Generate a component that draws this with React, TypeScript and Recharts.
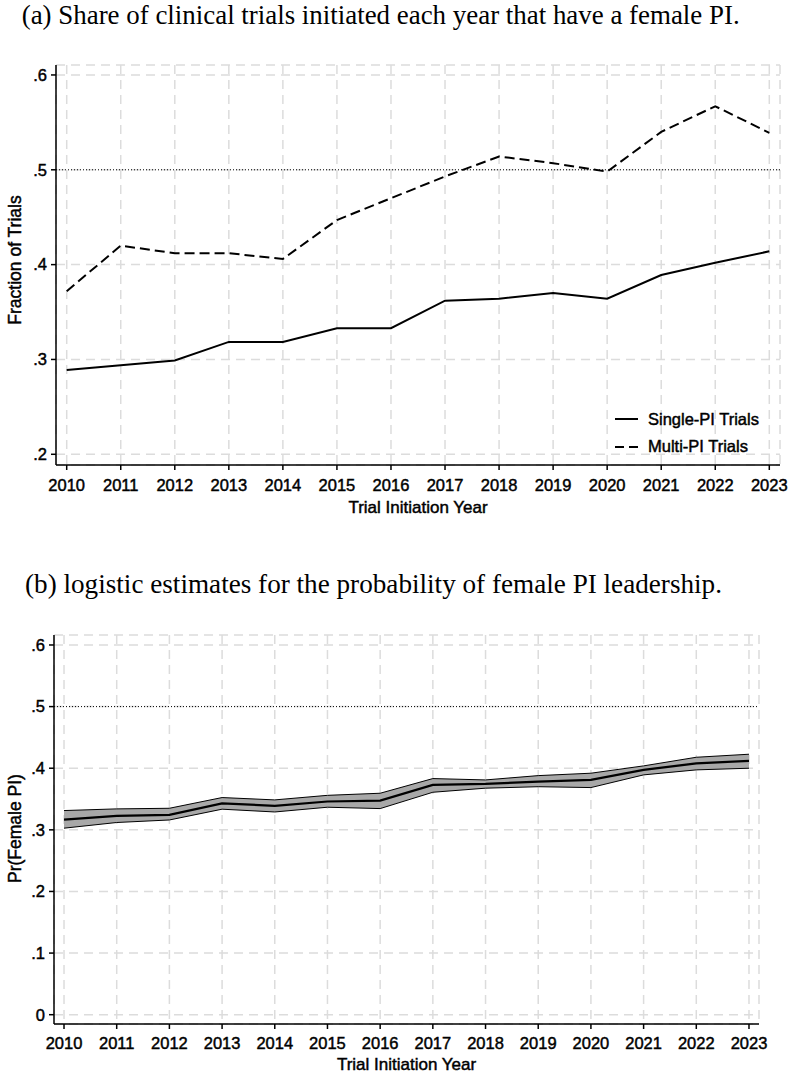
import React from 'react';
import {
  ComposedChart,
  Line,
  Area,
  XAxis,
  YAxis,
  CartesianGrid,
  ReferenceLine,
  Legend,
  Label,
} from 'recharts';

// ---------- data ----------
const years = [2010, 2011, 2012, 2013, 2014, 2015, 2016, 2017, 2018, 2019, 2020, 2021, 2022, 2023];
const singlePI = [0.289, 0.294, 0.299, 0.3185, 0.3185, 0.333, 0.333, 0.362, 0.364, 0.37, 0.364, 0.389, 0.402, 0.414];
const multiPI = [0.372, 0.42, 0.412, 0.412, 0.406, 0.447, 0.47, 0.493, 0.514, 0.507, 0.498, 0.54, 0.567, 0.539];
const fitPr = [0.3165, 0.3227, 0.3243, 0.343, 0.339, 0.346, 0.3475, 0.373, 0.3746, 0.3784, 0.381, 0.3973, 0.408, 0.4118];
const upperPr = [0.3313, 0.334, 0.335, 0.3524, 0.3486, 0.356, 0.3594, 0.3832, 0.381, 0.388, 0.3919, 0.4038, 0.4178, 0.4227];
const lowerPr = [0.3027, 0.3119, 0.316, 0.3335, 0.329, 0.3367, 0.3345, 0.361, 0.3676, 0.37, 0.3686, 0.3892, 0.3973, 0.4];
const yTicksA = [0.2, 0.3, 0.4, 0.5, 0.6];
const yTicksB = [0, 0.1, 0.2, 0.3, 0.4, 0.5, 0.6];

const titleA = '(a) Share of clinical trials initiated each year that have a female PI.';
const titleB = '(b) logistic estimates for the probability of female PI leadership.';
const xTitle = 'Trial Initiation Year';
const yTitleA = 'Fraction of Trials';
const yTitleB = 'Pr(Female PI)';
const legendLabels = ['Single-PI Trials', 'Multi-PI Trials'];

const dataA = years.map((y, i) => ({ year: y, single: singlePI[i], multi: multiPI[i] }));
const dataB = years.map((y, i) => ({ year: y, fit: fitPr[i], band: [lowerPr[i], upperPr[i]] }));

// ---------- styles ----------
const SANS = '"Liberation Sans", Arial, Helvetica, sans-serif';
const SERIF = '"Liberation Serif", "Times New Roman", serif';
const BOLDEN = { stroke: '#000', strokeWidth: 0.45 };
const tickStyle = { fontFamily: SANS, fontSize: 16.5, fill: '#000', ...BOLDEN };
const fmtY = (v: number) => (v === 0 ? '0' : '.' + Math.round(v * 10));

const makeXTitle = (dy: number) => (props: any) => {
  const vb = props.viewBox || {};
  return (
    <text
      x={vb.x + vb.width / 2}
      y={vb.y + dy}
      textAnchor="middle"
      fontFamily={SANS}
      fontSize={17}
      fill="#000"
      {...BOLDEN}
    >
      {xTitle}
    </text>
  );
};

const makeYTitle = (text: string, xPos: number, shift: number) => (props: any) => {
  const vb = props.viewBox || {};
  const cy = vb.y + vb.height / 2 + shift;
  return (
    <text
      x={xPos}
      y={cy}
      textAnchor="middle"
      fontFamily={SANS}
      fontSize={17.5}
      fill="#000"
      {...BOLDEN}
      transform={`rotate(-90 ${xPos} ${cy})`}
    >
      {text}
    </text>
  );
};

const LegendBox = () => (
  <svg width={175} height={52} style={{ display: 'block' }}>
    <line x1={5} x2={28} y1={14} y2={14} stroke="#000" strokeWidth={2} />
    <text x={38} y={20} fontFamily={SANS} fontSize={16.5} fill="#000" {...BOLDEN}>
      {legendLabels[0]}
    </text>
    <line x1={5} x2={28} y1={42} y2={42} stroke="#000" strokeWidth={2} strokeDasharray="9 5" />
    <text x={38} y={47} fontFamily={SANS} fontSize={16.5} fill="#000" {...BOLDEN}>
      {legendLabels[1]}
    </text>
  </svg>
);

const gridProps = {
  stroke: '#dcdcdc',
  strokeWidth: 1.5,
  strokeDasharray: '9 6',
};

export default function App() {
  return (
    <div style={{ position: 'absolute', left: 0, top: 0, width: 790, height: 1074, background: '#fff' }}>
      <svg width={790} height={44} style={{ position: 'absolute', left: 0, top: 0 }}>
        <text x={21.7} y={23.5} fontFamily={SERIF} fontSize={26.5} fill="#000" textLength={718} lengthAdjust="spacingAndGlyphs">
          {titleA}
        </text>
      </svg>

      <div style={{ position: 'absolute', left: 0, top: 0 }}>
        <ComposedChart width={790} height={530} data={dataA} margin={{ top: 65, right: 10, bottom: 0, left: 0 }}>
          <CartesianGrid {...gridProps} />
          <XAxis
            dataKey="year"
            type="number"
            domain={[2009.802, 2023.198]}
            ticks={years}
            allowDataOverflow
            height={65}
            tick={tickStyle}
            tickSize={5}
            tickMargin={9}
            axisLine={{ stroke: '#000', strokeWidth: 1.5 }}
            tickLine={{ stroke: '#000', strokeWidth: 1.5 }}
            interval={0}
          >
            <Label content={makeXTitle(48)} />
          </XAxis>
          <YAxis
            type="number"
            domain={[0.1887, 0.6105]}
            ticks={yTicksA}
            allowDataOverflow
            width={56}
            tick={tickStyle}
            tickFormatter={fmtY}
            tickSize={5}
            tickMargin={4}
            axisLine={{ stroke: '#000', strokeWidth: 1.5 }}
            tickLine={{ stroke: '#000', strokeWidth: 1.5 }}
            interval={0}
          >
            <Label content={makeYTitle(yTitleA, 21, -5)} />
          </YAxis>
          <ReferenceLine y={0.5} stroke="#000" strokeWidth={1} strokeDasharray="1 2" />
          <Line
            dataKey="single"
            name={legendLabels[0]}
            stroke="#000"
            strokeWidth={2}
            dot={false}
            type="linear"
            isAnimationActive={false}
          />
          <Line
            dataKey="multi"
            name={legendLabels[1]}
            stroke="#000"
            strokeWidth={2}
            strokeDasharray="10 5"
            dot={false}
            type="linear"
            isAnimationActive={false}
          />
          <Legend
            layout="vertical"
            align="center"
            verticalAlign="middle"
            content={<LegendBox />}
            wrapperStyle={{ position: 'absolute', left: 610, top: 405, width: 175, height: 52 }}
          />
        </ComposedChart>
      </div>

      <svg width={790} height={50} style={{ position: 'absolute', left: 0, top: 556 }}>
        <text x={25} y={37} fontFamily={SERIF} fontSize={27.5} fill="#000" textLength={697} lengthAdjust="spacingAndGlyphs">
          {titleB}
        </text>
      </svg>

      <div style={{ position: 'absolute', left: 0, top: 540 }}>
        <ComposedChart width={790} height={534} data={dataB} margin={{ top: 95, right: 31, bottom: 0, left: 0 }}>
          <CartesianGrid {...gridProps} />
          <XAxis
            dataKey="year"
            type="number"
            domain={[2009.81, 2023.19]}
            ticks={years}
            allowDataOverflow
            height={50}
            tick={tickStyle}
            tickSize={5}
            tickMargin={8}
            axisLine={{ stroke: '#000', strokeWidth: 1.5 }}
            tickLine={{ stroke: '#000', strokeWidth: 1.5 }}
            interval={0}
          >
            <Label content={makeXTitle(46)} />
          </XAxis>
          <YAxis
            type="number"
            domain={[-0.0151, 0.6162]}
            ticks={yTicksB}
            allowDataOverflow
            width={54}
            tick={tickStyle}
            tickFormatter={fmtY}
            tickSize={5}
            tickMargin={4}
            axisLine={{ stroke: '#000', strokeWidth: 1.5 }}
            tickLine={{ stroke: '#000', strokeWidth: 1.5 }}
            interval={0}
          >
            <Label content={makeYTitle(yTitleB, 21, -1)} />
          </YAxis>
          <ReferenceLine y={0.5} stroke="#000" strokeWidth={1} strokeDasharray="1 2" />
          <Area
            dataKey="band"
            type="linear"
            fill="#a8a8a8"
            fillOpacity={1}
            stroke="#000"
            strokeWidth={1}
            isAnimationActive={false}
          />
          <Line
            dataKey="fit"
            stroke="#000"
            strokeWidth={2.2}
            dot={false}
            type="linear"
            isAnimationActive={false}
          />
        </ComposedChart>
      </div>
    </div>
  );
}
